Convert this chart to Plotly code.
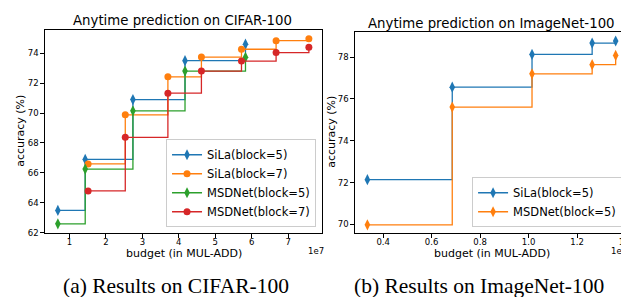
import plotly.graph_objects as go

# ---------------- data ----------------
cifar_x5 = [0.68e7, 1.43e7, 2.74e7, 4.17e7, 5.83e7]
cifar_x7 = [1.51e7, 2.53e7, 3.70e7, 4.62e7, 5.72e7, 6.67e7, 7.57e7]
cifar_sila5 = [63.5, 66.9, 70.9, 73.5, 74.6]
cifar_sila7 = [66.6, 69.88, 72.42, 73.74, 74.26, 74.83, 74.96]
cifar_msd5 = [62.6, 66.26, 70.15, 72.8, 73.72]
cifar_msd7 = [64.8, 68.38, 71.33, 72.8, 73.47, 74.04, 74.4]

imnet_x = [0.335e9, 0.685e9, 1.014e9, 1.262e9, 1.359e9]
imnet_sila5 = [72.14, 76.56, 78.13, 78.67, 78.77]
imnet_msd5 = [69.98, 75.61, 77.2, 77.64, 78.08]

cifar_xticks = [1, 2, 3, 4, 5, 6, 7]
cifar_yticks = [62, 64, 66, 68, 70, 72, 74]
imnet_xticks = [0.4, 0.6, 0.8, 1.0, 1.2, 1.4]
imnet_yticks = [70, 72, 74, 76, 78]

BLUE, ORANGE, GREEN, RED = "#1f77b4", "#ff7f0e", "#2ca02c", "#d62728"
W, H = 629, 297
FONT = "DejaVu Sans"

fig = go.Figure()


def add(x, y, name, color, symbol, size, xa, ya, legend):
    fig.add_trace(go.Scatter(
        x=x, y=y, name=name, mode="lines+markers", line_shape="hv",
        line=dict(color=color, width=1.3),
        marker=dict(color=color, symbol=symbol, size=size),
        xaxis=xa, yaxis=ya, legend=legend))


add(cifar_x5, cifar_sila5, "SiLa(block=5)", BLUE, "diamond-tall", 8, "x", "y", "legend")
add(cifar_x7, cifar_sila7, "SiLa(block=7)", ORANGE, "circle", 7, "x", "y", "legend")
add(cifar_x5, cifar_msd5, "MSDNet(block=5)", GREEN, "diamond-tall", 8, "x", "y", "legend")
add(cifar_x7, cifar_msd7, "MSDNet(block=7)", RED, "circle", 7, "x", "y", "legend")
add(imnet_x, imnet_sila5, "SiLa(block=5)", BLUE, "diamond-tall", 8, "x2", "y2", "legend2")
add(imnet_x, imnet_msd5, "MSDNet(block=5)", ORANGE, "diamond-tall", 8, "x2", "y2", "legend2")

axis_style = dict(showline=True, linecolor="black", linewidth=1, mirror=True,
                  ticks="outside", ticklen=3.5, tickwidth=1, tickcolor="black",
                  showgrid=False, zeroline=False,
                  tickfont=dict(family=FONT, size=8.5, color="black"))

fig.update_layout(
    width=W, height=H, margin=dict(l=0, r=0, t=0, b=0),
    paper_bgcolor="white", plot_bgcolor="white",
    xaxis=dict(domain=[37 / W, 316 / W], range=[0.32e7, 7.93e7],
               tickvals=[v * 1e7 for v in cifar_xticks], ticklabelstandoff=-3,
               ticktext=[str(v) for v in cifar_xticks], anchor="y", **axis_style),
    yaxis=dict(domain=[(H - 229) / H, (H - 22) / H], range=[61.98, 75.57],
               tickvals=cifar_yticks, anchor="x", **axis_style),
    xaxis2=dict(domain=[349 / W, 624 / W], range=[0.283e9, 1.41e9],
                tickvals=[v * 1e9 for v in imnet_xticks], ticklabelstandoff=-3,
                ticktext=[f"{v:.1f}" for v in imnet_xticks], anchor="y2", **axis_style),
    yaxis2=dict(domain=[(H - 229) / H, (H - 24) / H], range=[69.58, 79.22],
                tickvals=imnet_yticks, anchor="x2", **axis_style),
    legend=dict(x=310 / W, y=(H - 223) / H, xanchor="right", yanchor="bottom",
                bgcolor="white", bordercolor="#cccccc", borderwidth=1,
                font=dict(family=FONT, size=11.5, color="black"),
                tracegroupgap=0, itemwidth=30),
    legend2=dict(x=618 / W, y=(H - 223) / H, xanchor="right", yanchor="bottom",
                 bgcolor="white", bordercolor="#cccccc", borderwidth=1,
                 font=dict(family=FONT, size=11.5, color="black"),
                 tracegroupgap=0, itemwidth=30),
    showlegend=True,
)


def ann(text, x, y, size, family=FONT, angle=0, color="black", xanchor="center"):
    fig.add_annotation(text=text, x=x / W, y=1 - y / H, xref="paper", yref="paper",
                       showarrow=False, xanchor=xanchor, yanchor="middle",
                       textangle=angle, font=dict(family=family, size=size, color=color))


ann("Anytime prediction on CIFAR-100", 176, 13, 13.3)
ann("Anytime prediction on ImageNet-100", 486.5, 15.5, 13.3)
ann("budget (in MUL-ADD)", 177, 250, 11)
ann("budget (in MUL-ADD)", 487, 250, 11)
ann("accuracy (%)", 13, 125, 11, angle=-90)
ann("accuracy (%)", 326, 126, 11, angle=-90)
ann("1e7", 310, 247, 8.5)
ann("1e9", 615, 247, 8.5)
ann("(a) Results on CIFAR-100", 169, 283, 21.5, family="Liberation Serif")
ann("(b) Results on ImageNet-100", 474.5, 283, 21.5, family="Liberation Serif")

fig.write_html("out.html")
